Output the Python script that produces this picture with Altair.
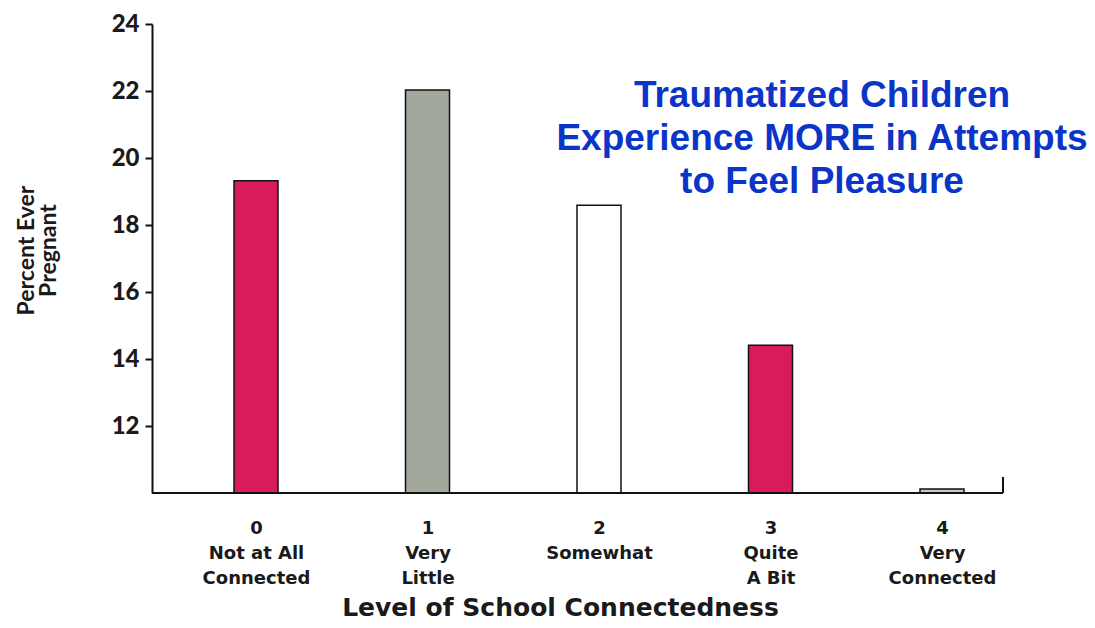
import altair as alt
import pandas as pd

# ---- data ----
levels = ["0", "1", "2", "3", "4"]
level_names = [["Not at All", "Connected"], ["Very", "Little"], ["Somewhat"],
               ["Quite", "A Bit"], ["Very", "Connected"]]
percent_pregnant = [19.32, 22.03, 18.59, 14.41, 10.12]
bar_colors = ["#d81b5c", "#a2a99c", "#ffffff", "#d81b5c", "#c9c9c2"]
y_ticks = [12, 14, 16, 18, 20, 22, 24]
y_title = ["Percent Ever", "Pregnant"]
x_title = "Level of School Connectedness"
headline = ["Traumatized Children", "Experience MORE in Attempts", "to Feel Pleasure"]

df = pd.DataFrame({"level": levels, "pct": percent_pregnant})

W, H = 851, 469
LABEL_FONT = "DejaVu Sans"
TICK_FONT = "Lato"

label_map = "{" + ",".join(
    "'%s':[%s]" % (lv, ",".join("'%s'" % s for s in [lv] + nm))
    for lv, nm in zip(levels, level_names)
) + "}[datum.value]"

bars = alt.Chart(df).mark_bar(stroke="#111111", strokeWidth=1.5, size=44).encode(
    x=alt.X("level:N", sort=levels,
            scale=alt.Scale(type="point", range=[104, 790], padding=0),
            axis=alt.Axis(title=x_title, labelAngle=0, domain=False, ticks=False,
                          labelExpr=label_map, labelFont=LABEL_FONT, labelFontWeight="bold",
                          labelFontSize=18, labelLineHeight=25, labelPadding=26,
                          labelColor="#1a1a1a",
                          titleFont=LABEL_FONT, titleFontSize=25, titleFontWeight="bold",
                          titleColor="#1a1a1a", titleX=408, titleY=122,
                          titleBaseline="alphabetic", titleAnchor="middle")),
    y=alt.Y("pct:Q", scale=alt.Scale(domain=[10, 24], nice=False, zero=False),
            axis=alt.Axis(values=y_ticks, title=y_title, grid=False,
                          domainColor="#111111", domainWidth=2,
                          tickColor="#111111", tickWidth=2, tickSize=7,
                          labelFont=TICK_FONT, labelFontWeight=900, labelFontSize=24,
                          labelColor="#1a1a1a", labelPadding=6,
                          titleFont=TICK_FONT, titleFontSize=23, titleFontWeight="bold",
                          titleColor="#1a1a1a", titleAngle=-90, titleX=-119, titleY=226,
                          titleAlign="center", titleBaseline="alphabetic",
                          titleLineHeight=22)),
    y2=alt.datum(10),
    color=alt.Color("level:N", scale=alt.Scale(domain=levels, range=bar_colors), legend=None),
)

one = alt.Data(values=[{}])

xbase = alt.Chart(one).mark_rule(color="#111111", strokeWidth=2).encode(
    x=alt.value(0), x2=alt.value(W), y=alt.value(H))
endtick = alt.Chart(one).mark_rule(color="#111111", strokeWidth=2).encode(
    x=alt.value(W), y=alt.value(H - 16), y2=alt.value(H))

title_txt = alt.Chart(one).mark_text(
    font="Liberation Sans", fontSize=37, fontWeight="bold", color="#0a35c8",
    align="center", baseline="alphabetic", lineHeight=43,
).encode(x=alt.value(670), y=alt.value(83), text=alt.value(headline))

chart = alt.layer(bars, xbase, endtick, title_txt).properties(
    width=W, height=H,
    background="white",
    autosize=alt.AutoSizeParams(type="none"),
    padding={"left": 144, "top": 16, "right": 84, "bottom": 127},
).configure_view(strokeWidth=0, stroke=None)

chart.save("out.html", embed_options={"renderer": "svg", "actions": False})
